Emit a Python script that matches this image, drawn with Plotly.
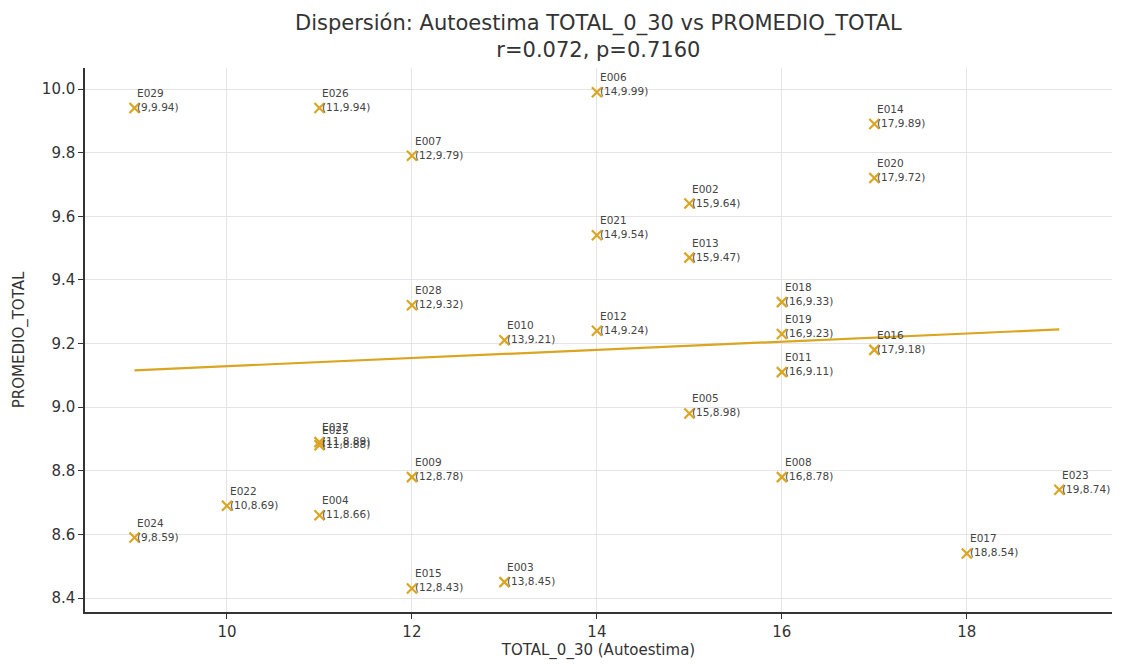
import numpy as np
import plotly.graph_objects as go

ids = ["E029", "E026", "E006", "E007", "E014", "E020", "E002", "E021", "E013",
       "E028", "E018", "E019", "E010", "E012", "E016", "E011", "E005",
       "E025", "E027", "E009", "E008", "E023", "E022", "E004", "E024",
       "E017", "E015", "E003"]
total_0_30 = [9, 11, 14, 12, 17, 17, 15, 14, 15,
              12, 16, 16, 13, 14, 17, 16, 15,
              11, 11, 12, 16, 19, 10, 11, 9,
              18, 12, 13]
promedio = [9.94, 9.94, 9.99, 9.79, 9.89, 9.72, 9.64, 9.54, 9.47,
            9.32, 9.33, 9.23, 9.21, 9.24, 9.18, 9.11, 8.98,
            8.88, 8.89, 8.78, 8.78, 8.74, 8.69, 8.66, 8.59,
            8.54, 8.43, 8.45]

x = np.array(total_0_30, dtype=float)
y = np.array(promedio, dtype=float)
slope, intercept = np.polyfit(x, y, 1)
xl = np.array([x.min(), x.max()])
yl = slope * xl + intercept

gold = "#DAA520"
fig = go.Figure()
fig.add_trace(go.Scatter(x=x, y=y, mode="markers",
                         marker=dict(symbol="x-thin", size=10, color=gold,
                                     line=dict(color=gold, width=2.2)),
                         showlegend=False))
fig.add_trace(go.Scatter(x=xl, y=yl, mode="lines",
                         line=dict(color=gold, width=2.2), showlegend=False))

for i, xv, yv in zip(ids, total_0_30, promedio):
    fig.add_annotation(x=xv, y=yv, text=f"{i}<br>({xv},{yv:g})", showarrow=False,
                       xanchor="left", yanchor="bottom", xshift=1, yshift=-7,
                       align="left",
                       font=dict(family="DejaVu Sans", size=10.5, color="#444444"))

fig.add_annotation(xref="paper", yref="paper", x=0.5, y=1.0, xanchor="center",
                   yanchor="bottom", yshift=4, showarrow=False, align="center",
                   text="Dispersión: Autoestima TOTAL_0_30 vs PROMEDIO_TOTAL<br>r=0.072, p=0.7160",
                   font=dict(family="DejaVu Sans", size=21, color="#333333"))

fig.update_layout(
    width=1112, height=652,
    paper_bgcolor="white", plot_bgcolor="white",
    margin=dict(l=77, r=8, t=60, b=48, autoexpand=False),
    font=dict(family="DejaVu Sans", size=15, color="#333333"),
)
fig.update_xaxes(range=[8.465, 19.57], tickvals=[10, 12, 14, 16, 18],
                 showgrid=True, gridcolor="#e5e5e5", gridwidth=1,
                 showline=True, linecolor="#333333", linewidth=1.5,
                 ticks="outside", ticklen=5, tickcolor="#333333",
                 zeroline=False, automargin=False,
                 title=dict(text="TOTAL_0_30 (Autoestima)", standoff=6,
                            font=dict(size=15)))
fig.update_yaxes(range=[8.356, 10.066], tickvals=[8.4, 8.6, 8.8, 9.0, 9.2, 9.4, 9.6, 9.8, 10.0],
                 tickformat=".1f",
                 showgrid=True, gridcolor="#e5e5e5", gridwidth=1,
                 showline=True, linecolor="#333333", linewidth=1.5,
                 ticks="outside", ticklen=5, tickcolor="#333333",
                 zeroline=False, automargin=False,
                 title=dict(text="PROMEDIO_TOTAL", standoff=14, font=dict(size=15)))

fig.write_html("out.html")
